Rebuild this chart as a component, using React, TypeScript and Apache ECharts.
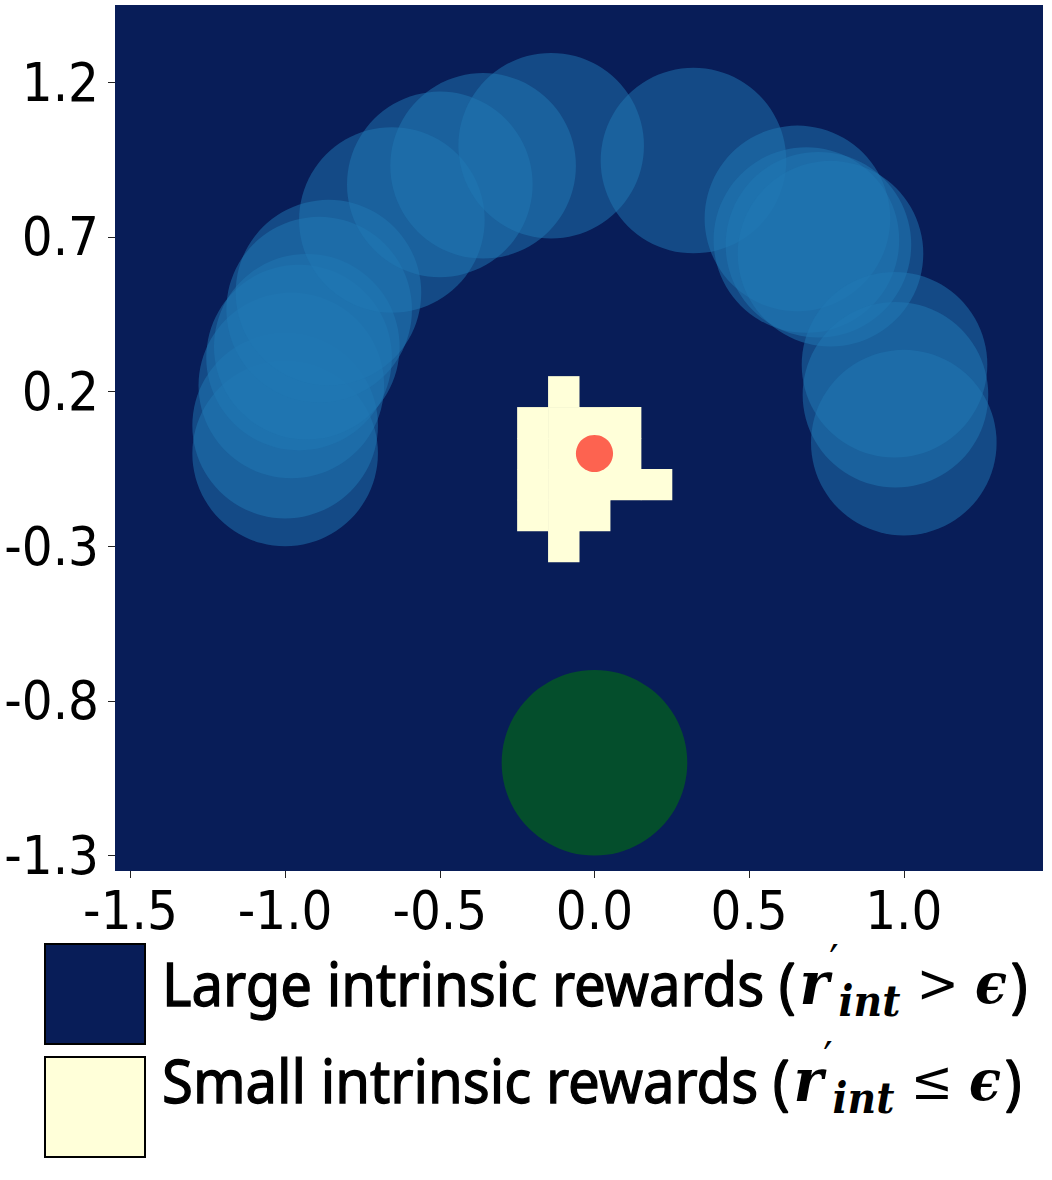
import React, { useEffect, useRef } from "react";
import * as echarts from "echarts";

// ---- axes ----
const X_MIN = -1.55;
const X_MAX = 1.45;
const Y_MIN = -1.35;
const Y_MAX = 1.45;
const xTickValues = [-1.5, -1.0, -0.5, 0.0, 0.5, 1.0];
const yTickValues = [1.2, 0.7, 0.2, -0.3, -0.8, -1.3];

// ---- grid cells with small intrinsic rewards (cell centers) ----
const CELL = 0.1;
const smallRewardCells: [number, number][] = [
  [-0.1, 0.2],
  [-0.2, 0.1], [-0.1, 0.1], [0.0, 0.1], [0.1, 0.1],
  [-0.2, 0.0], [-0.1, 0.0], [0.0, 0.0], [0.1, 0.0],
  [-0.2, -0.1], [-0.1, -0.1], [0.0, -0.1], [0.1, -0.1], [0.2, -0.1],
  [-0.2, -0.2], [-0.1, -0.2], [0.0, -0.2],
  [-0.1, -0.3],
];

// ---- visited states (x, y, radius) ----
const visitedStates: [number, number, number][] = [
  [-1.0, 0.0, 0.3],
  [-1.0, 0.09, 0.3],
  [-0.98, 0.22, 0.3],
  [-0.955, 0.31, 0.3],
  [-0.93, 0.345, 0.3],
  [-0.89, 0.465, 0.3],
  [-0.86, 0.52, 0.3],
  [-0.655, 0.755, 0.3],
  [-0.5, 0.87, 0.3],
  [-0.36, 0.93, 0.3],
  [-0.14, 0.995, 0.3],
  [0.32, 0.947, 0.3],
  [0.656, 0.76, 0.3],
  [0.685, 0.69, 0.3],
  [0.724, 0.675, 0.3],
  [0.763, 0.646, 0.3],
  [0.97, 0.287, 0.3],
  [0.973, 0.19, 0.3],
  [1.0, 0.035, 0.3],
];

const goalState: [number, number, number][] = [[0.0, -1.0, 0.3]];
const agentState: [number, number, number][] = [[0.0, 0.0, 0.06]];

// ---- legend ----
const legendLabels = ["Large intrinsic rewards (", "Small intrinsic rewards ("];
const legendRelations = [" > ", " ≤ "];
const legendColors = ["#081d58", "#ffffd9"];

const NAVY = "#081d58";
const CREAM = "#ffffd9";

function measure(text: string, font: string): number {
  const c = document.createElement("canvas");
  const ctx = c.getContext("2d");
  if (!ctx) return text.length * 30;
  ctx.font = font;
  return ctx.measureText(text).width;
}

function circleRenderer(fill: string) {
  return (params: any, api: any) => {
    const c = api.coord([api.value(0), api.value(1)]);
    const r = api.size([api.value(2), 0])[0];
    return {
      type: "circle",
      shape: { cx: c[0], cy: c[1], r },
      style: { fill },
    };
  };
}

export default function App() {
  const ref = useRef<HTMLDivElement>(null);

  useEffect(() => {
    if (!ref.current) return;
    const chart = echarts.init(ref.current, null, { renderer: "svg" });

    const textFont = "Noto Sans";
    const textSize = 60;
    const w = measure(legendLabels[0], `${textSize}px "${textFont}"`);
    const sx = 634 / w;

    const rich = {
      t: {
        fontFamily: textFont, fontSize: textSize, fill: "#000",
        stroke: "#000", lineWidth: 1.3,
      },
      r: { fontFamily: "DejaVu Serif", fontStyle: "italic", fontWeight: "bold", fontSize: 60, fill: "#000", padding: [0, 0, 0, 4] },
      p: { fontFamily: "DejaVu Serif", fontSize: 44, fill: "#000", padding: [0, 0, 42, 0] },
      s: { fontFamily: "DejaVu Serif", fontStyle: "italic", fontWeight: "bold", fontSize: 42, fill: "#000", padding: [38, 0, 0, 0] },
      o: { fontFamily: "DejaVu Serif", fontSize: 54, fill: "#000" },
      e: { fontFamily: "DejaVu Serif", fontStyle: "italic", fontWeight: "bold", fontSize: 56, fill: "#000", padding: [0, 4, 0, 0] },
    };

    const legendTops = [944, 1057];
    const textY = [983, 1080];
    const legendGraphics: any[] = [];
    legendLabels.forEach((lab, i) => {
      legendGraphics.push({
        type: "rect",
        shape: { x: 45, y: legendTops[i], width: 100, height: 100 },
        style: { fill: legendColors[i], stroke: "#000", lineWidth: 2 },
      });
      legendGraphics.push({
        type: "text",
        x: 162,
        y: textY[i],
        scaleX: sx,
        style: {
          text: `{t|${lab}}{r|r}{p|′}{s|int}{o|${legendRelations[i]}}{e|ϵ}{t|)}`,
          rich,
          verticalAlign: "middle",
          align: "left",
        },
      });
    });

    const axisLabelStyle = {
      fontFamily: "DejaVu Sans Condensed, DejaVu Sans",
      fontSize: 54,
      color: "#000",
    };

    const option: any = {
      animation: false,
      backgroundColor: "#ffffff",
      grid: {
        left: 115,
        top: 5,
        width: 928,
        height: 866,
        show: true,
        backgroundColor: NAVY,
        borderWidth: 0,
      },
      xAxis: {
        type: "value",
        min: X_MIN,
        max: X_MAX,
        splitLine: { show: false },
        axisLine: { show: false, onZero: false },
        axisTick: {
          show: true,
          length: 7,
          lineStyle: { color: "#222", width: 1 },
          customValues: xTickValues,
        },
        axisLabel: {
          ...axisLabelStyle,
          margin: 12,
          customValues: xTickValues,
          formatter: (v: number) => v.toFixed(1),
        },
      },
      yAxis: {
        type: "value",
        min: Y_MIN,
        max: Y_MAX,
        splitLine: { show: false },
        axisLine: { show: false, onZero: false },
        axisTick: {
          show: true,
          length: 7,
          lineStyle: { color: "#222", width: 1 },
          customValues: yTickValues,
        },
        axisLabel: {
          ...axisLabelStyle,
          margin: 16,
          customValues: yTickValues,
          formatter: (v: number) => v.toFixed(1),
        },
      },
      series: [
        {
          type: "custom",
          name: "small rewards",
          data: smallRewardCells,
          encode: { x: 0, y: 1 },
          renderItem: (params: any, api: any) => {
            const x = api.value(0);
            const y = api.value(1);
            const p = api.coord([x - CELL / 2, y + CELL / 2]);
            const s = api.size([CELL, CELL]);
            return {
              type: "rect",
              shape: { x: p[0], y: p[1], width: s[0] + 0.5, height: s[1] + 0.5 },
              style: { fill: CREAM },
            };
          },
        },
        {
          type: "custom",
          name: "visited",
          data: visitedStates,
          encode: { x: 0, y: 1 },
          renderItem: circleRenderer("rgba(31,119,180,0.5)"),
        },
        {
          type: "custom",
          name: "goal",
          data: goalState,
          encode: { x: 0, y: 1 },
          renderItem: circleRenderer("rgba(0,128,0,0.5)"),
        },
        {
          type: "custom",
          name: "agent",
          data: agentState,
          encode: { x: 0, y: 1 },
          renderItem: circleRenderer("#fd6350"),
        },
      ],
      graphic: legendGraphics,
    };

    chart.setOption(option);
    return () => chart.dispose();
  }, []);

  return (
    <div
      ref={ref}
      style={{ position: "fixed", left: 0, top: 0, width: 1052, height: 1180, background: "#fff" }}
    />
  );
}
